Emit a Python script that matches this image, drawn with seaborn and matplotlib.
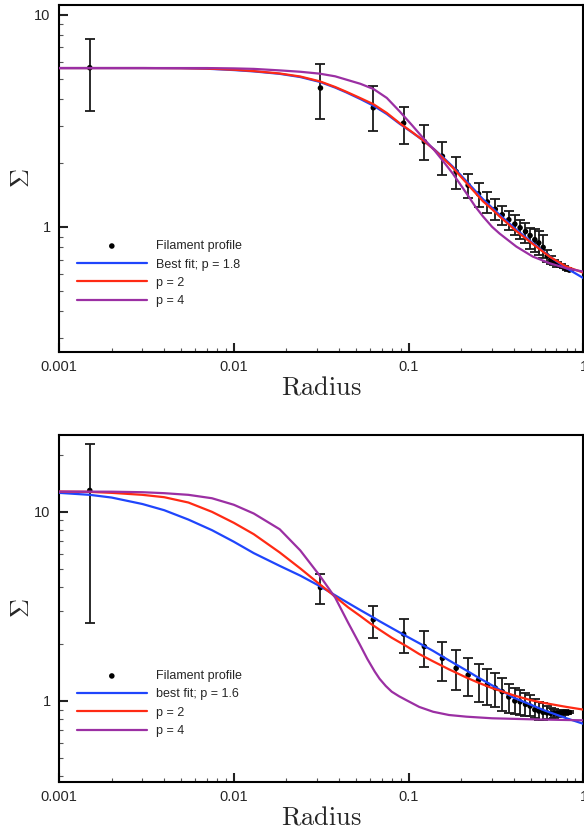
import numpy as np
import pandas as pd
import matplotlib
matplotlib.use('Agg')
import matplotlib.pyplot as plt
import seaborn as sns
from matplotlib.ticker import LogLocator, NullFormatter

# Filament profile: radius of each point
radius = [0.0015, 0.0313, 0.0628, 0.0936, 0.123, 0.156, 0.187, 0.219, 0.251, 0.282,
          0.313, 0.343, 0.374, 0.405, 0.434, 0.466, 0.495, 0.527, 0.555, 0.588,
          0.62, 0.65, 0.68, 0.71, 0.74, 0.77, 0.80, 0.83]

# top panel profile (value, low, high)
sigma_top = [5.62, 4.51, 3.64, 3.08, 2.52, 2.15, 1.82, 1.57, 1.43, 1.31,
             1.21, 1.14, 1.08, 1.03, 0.99, 0.95, 0.91, 0.87, 0.84, 0.80,
             0.73, 0.70, 0.68, 0.665, 0.655, 0.645, 0.635, 0.625]
low_top = [3.52, 3.23, 2.84, 2.45, 2.07, 1.75, 1.51, 1.36, 1.24, 1.16,
           1.08, 1.02, 0.97, 0.92, 0.875, 0.84, 0.79, 0.76, 0.74, 0.71,
           0.68, 0.67, 0.66, 0.65, 0.645, 0.637, 0.628, 0.618]
high_top = [7.7, 5.85, 4.62, 3.68, 3.03, 2.51, 2.13, 1.77, 1.61, 1.46,
            1.35, 1.26, 1.19, 1.14, 1.08, 1.04, 0.99, 0.98, 0.96, 0.92,
            0.78, 0.73, 0.70, 0.68, 0.665, 0.653, 0.642, 0.632]

# bottom panel profile (value, low, high)
sigma_bot = [12.97, 3.98, 2.69, 2.26, 1.94, 1.68, 1.49, 1.37, 1.29, 1.22,
             1.17, 1.12, 1.05, 1.00, 0.99, 0.96, 0.94, 0.90, 0.885, 0.87,
             0.865, 0.86, 0.86, 0.86, 0.865, 0.87, 0.87, 0.87]
low_bot = [2.59, 3.27, 2.16, 1.79, 1.51, 1.28, 1.14, 1.06, 0.99, 0.95,
           0.925, 0.89, 0.86, 0.85, 0.84, 0.83, 0.83, 0.81, 0.79, 0.79,
           0.80, 0.80, 0.81, 0.82, 0.83, 0.84, 0.85, 0.86]
high_bot = [22.9, 4.68, 3.19, 2.70, 2.35, 2.06, 1.86, 1.68, 1.56, 1.47,
            1.40, 1.33, 1.23, 1.17, 1.14, 1.10, 1.07, 1.03, 0.99, 0.97,
            0.94, 0.92, 0.91, 0.90, 0.90, 0.90, 0.89, 0.88]

# model curves, top panel
fit_r_top = [0.001, 0.002, 0.003, 0.005, 0.007, 0.01, 0.013, 0.0183, 0.024, 0.031,
             0.038, 0.044, 0.053, 0.063, 0.075, 0.0888, 0.105, 0.123, 0.14, 0.156,
             0.179, 0.214, 0.24, 0.266, 0.3, 0.331, 0.413, 0.513, 0.639, 0.796, 1.0]
best_top = [5.60, 5.60, 5.60, 5.59, 5.56, 5.48, 5.40, 5.26, 5.08, 4.82,
            4.53, 4.30, 4.00, 3.72, 3.40, 3.06, 2.78, 2.53, 2.32, 2.14,
            1.92, 1.64, 1.48, 1.35, 1.23, 1.14, 0.97, 0.838, 0.726, 0.64, 0.573]
p2_top = [5.60, 5.60, 5.60, 5.59, 5.57, 5.50, 5.42, 5.28, 5.11, 4.85,
          4.56, 4.33, 4.04, 3.78, 3.44, 3.08, 2.79, 2.53, 2.31, 2.12,
          1.90, 1.61, 1.45, 1.32, 1.21, 1.12, 0.955, 0.83, 0.724, 0.65, 0.608]
p4_top = [5.60, 5.60, 5.60, 5.60, 5.60, 5.58, 5.55, 5.46, 5.38, 5.27,
          5.12, 4.94, 4.72, 4.46, 4.05, 3.50, 3.00, 2.58, 2.30, 2.06,
          1.78, 1.44, 1.25, 1.12, 1.00, 0.93, 0.807, 0.724, 0.674, 0.638, 0.615]

# model curves, bottom panel
fit_r_bot = [0.001, 0.0015, 0.002, 0.003, 0.004, 0.0055, 0.0075, 0.01, 0.013, 0.0183,
             0.024, 0.031, 0.038, 0.045, 0.0527, 0.06, 0.0682, 0.08, 0.097, 0.115,
             0.138, 0.17, 0.214, 0.25, 0.3, 0.4, 0.5, 0.6, 0.8, 1.0]
best_bot = [12.6, 12.3, 11.9, 11.0, 10.2, 9.1, 8.0, 6.95, 6.05, 5.18,
            4.60, 4.05, 3.62, 3.30, 3.03, 2.83, 2.64, 2.43, 2.20, 2.02,
            1.84, 1.64, 1.45, 1.33, 1.21, 1.04, 0.955, 0.89, 0.81, 0.757]
p2_bot = [12.8, 12.75, 12.6, 12.3, 11.95, 11.2, 10.0, 8.75, 7.62, 6.10,
          5.02, 4.14, 3.56, 3.13, 2.82, 2.58, 2.38, 2.16, 1.95, 1.77,
          1.62, 1.47, 1.33, 1.25, 1.17, 1.07, 1.01, 0.975, 0.93, 0.90]
p4_r_bot = [0.001, 0.002, 0.003, 0.004, 0.0055, 0.0075, 0.01, 0.013, 0.0183, 0.024,
            0.031, 0.038, 0.045, 0.0527, 0.058, 0.064, 0.0682, 0.074, 0.08, 0.088,
            0.097, 0.115, 0.138, 0.17, 0.214, 0.3, 0.5, 1.0]
p4_bot = [12.8, 12.78, 12.7, 12.55, 12.3, 11.8, 10.9, 9.8, 8.09, 6.25,
          4.60, 3.52, 2.60, 1.98, 1.67, 1.43, 1.31, 1.20, 1.12, 1.06,
          1.01, 0.93, 0.877, 0.843, 0.826, 0.81, 0.80, 0.79]

blue = '#1f45fc'
red = '#ff2a14'
purple = '#9b2fa3'

sns.set_style('ticks')
plt.rcParams['font.family'] = ['Liberation Sans', 'DejaVu Sans']
plt.rcParams['mathtext.fontset'] = 'cm'


def draw_panel(ax, sigma, lo, hi, fit_r, best, p2, p4_r, p4, best_label, ylim):
    sig = np.array(sigma)
    ax.errorbar(radius, sig, yerr=[sig - np.array(lo), np.array(hi) - sig],
                fmt='none', ecolor='#1a1a1a', elinewidth=1.3, capsize=3.5,
                capthick=1.3, zorder=2)
    sns.scatterplot(x=radius, y=sigma, ax=ax, color='black', s=16,
                    edgecolor='none', label='Filament profile', zorder=3)
    sns.lineplot(x=fit_r, y=best, ax=ax, color=blue, lw=1.6, sort=False,
                 estimator=None, label=best_label, zorder=4)
    sns.lineplot(x=fit_r, y=p2, ax=ax, color=red, lw=1.6, sort=False,
                 estimator=None, label='p = 2', zorder=4)
    sns.lineplot(x=p4_r, y=p4, ax=ax, color=purple, lw=1.6, sort=False,
                 estimator=None, label='p = 4', zorder=4)

    ax.set_xscale('log')
    ax.set_yscale('log')
    ax.set_xlim(0.001, 1)
    ax.set_ylim(*ylim)

    ax.set_xticks([0.001, 0.01, 0.1, 1], labels=['0.001', '0.01', '0.1', '1'])
    ax.set_yticks([1, 10], labels=['1', '10'])
    ax.xaxis.set_minor_locator(LogLocator(base=10, subs=np.arange(2, 10)))
    ax.yaxis.set_minor_locator(LogLocator(base=10, subs=np.arange(2, 10)))
    ax.xaxis.set_minor_formatter(NullFormatter())
    ax.yaxis.set_minor_formatter(NullFormatter())
    ax.tick_params(which='major', direction='in', length=6.5, width=1.5,
                   labelsize=10.5, pad=6, color='#222222')
    ax.tick_params(which='minor', direction='in', length=3.2, width=0.8,
                   color='#555555')
    for sp in ax.spines.values():
        sp.set_linewidth(1.5)
        sp.set_color('black')

    ax.set_xlabel(r'$\mathrm{Radius}$', fontsize=19, labelpad=1)
    ax.set_ylabel(r'$\Sigma$', fontsize=19, labelpad=0)

    ax.legend(loc='upper left', bbox_to_anchor=(0.034, 0.322), frameon=False,
              fontsize=9, handlelength=5.6, handletextpad=0.7, labelspacing=0.5,
              borderpad=0, borderaxespad=0, scatterpoints=1)


fig = plt.figure(figsize=(5.84, 8.35), dpi=100)
ax_top = fig.add_axes([0.1010, 0.5784, 0.8981, 0.4156])
ax_bot = fig.add_axes([0.1010, 0.0635, 0.8981, 0.4156])

draw_panel(ax_top, sigma_top, low_top, high_top, fit_r_top, best_top, p2_top,
           fit_r_top, p4_top, 'Best fit; p = 1.8', (0.257, 11.1))
draw_panel(ax_bot, sigma_bot, low_bot, high_bot, fit_r_bot, best_bot, p2_bot,
           p4_r_bot, p4_bot, 'best fit; p = 1.6', (0.373, 25.5))

fig.savefig('out.png', dpi=100)
